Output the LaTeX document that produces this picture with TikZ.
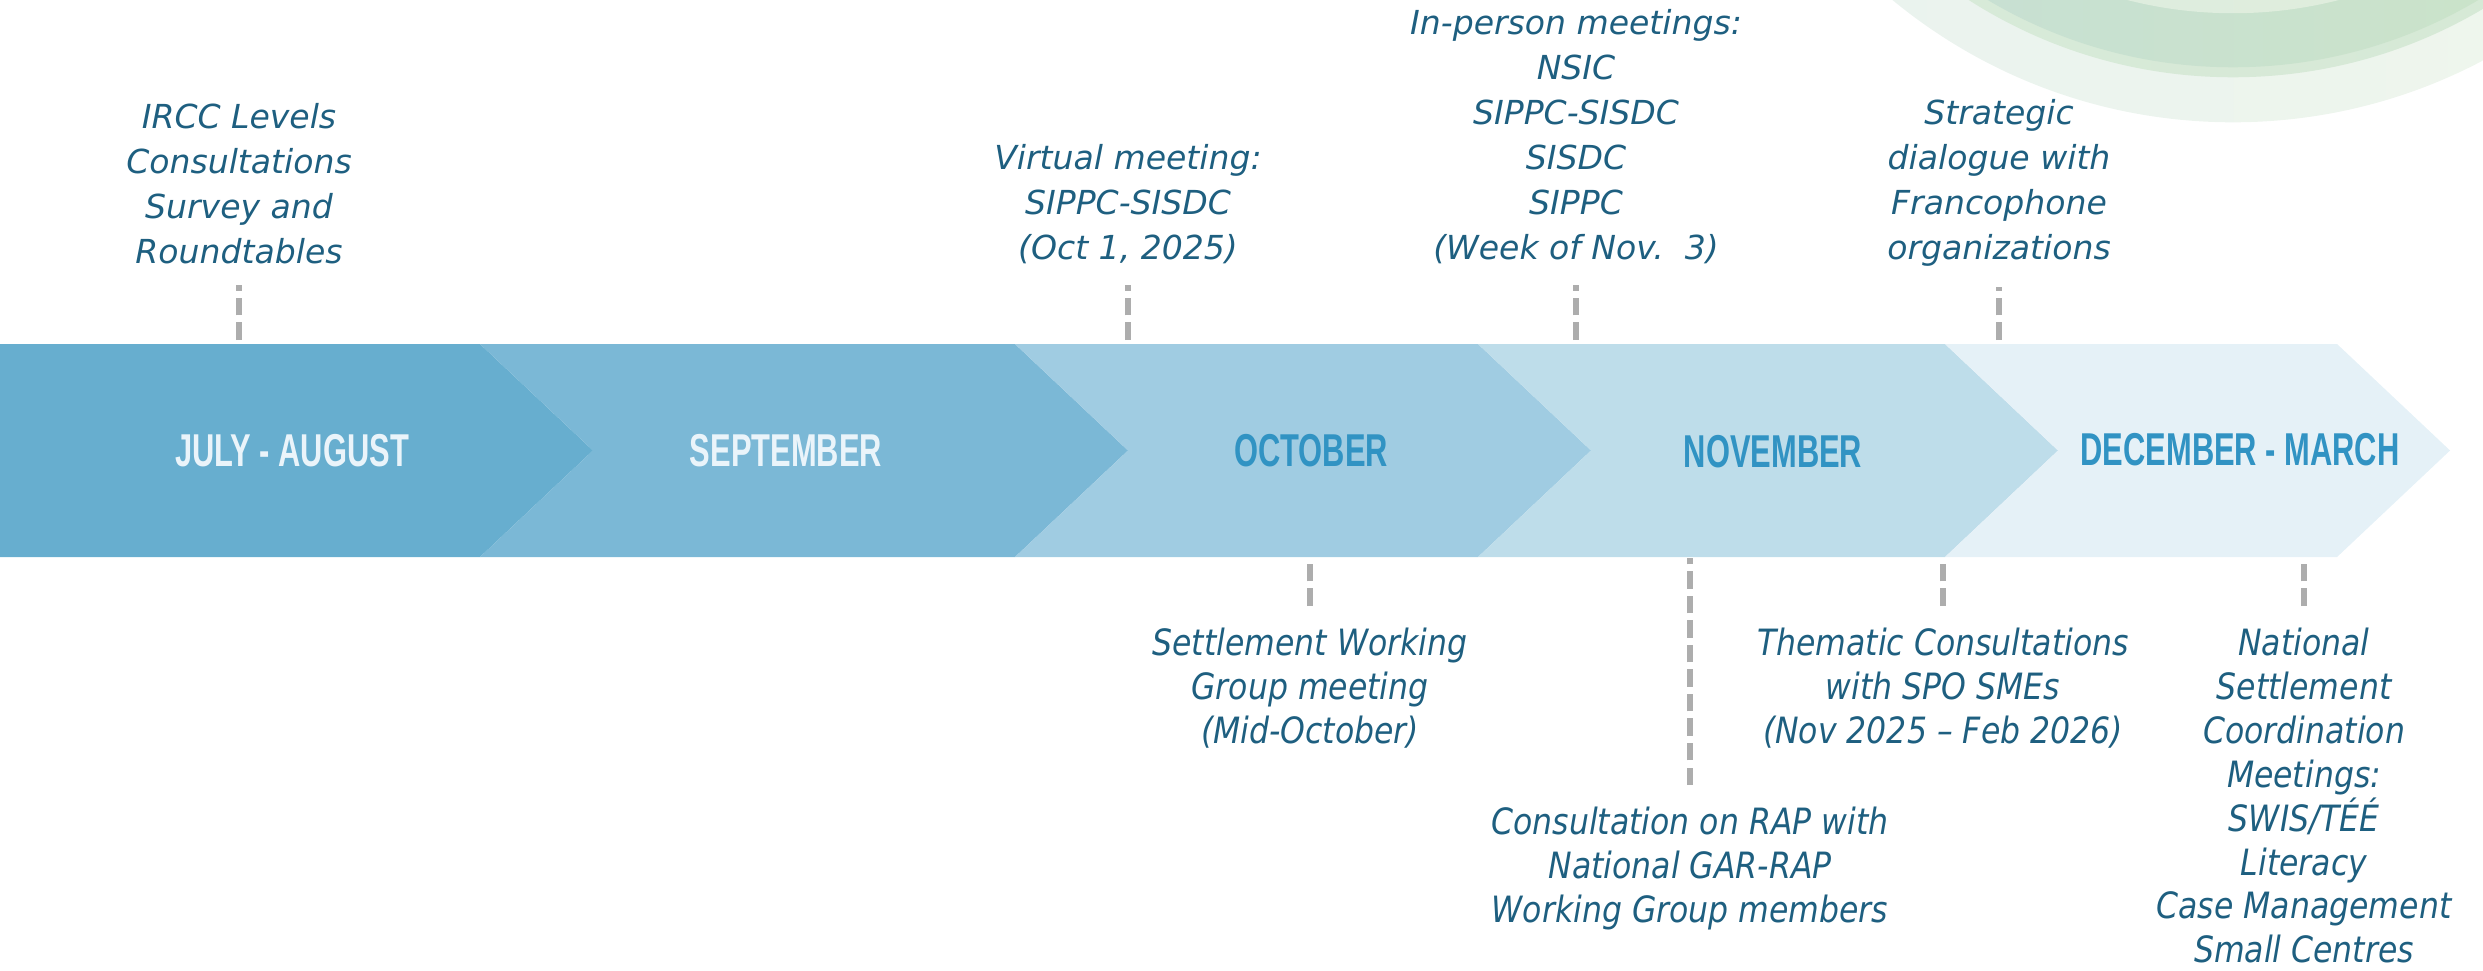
\documentclass[tikz,border=0pt]{standalone}
\usepackage{fontspec}
\usepackage{tikz}
\usetikzlibrary{positioning}
\newfontfamily\bandfont[FakeStretch=0.67]{Liberation Sans}
\newfontfamily\notefont{DejaVu Sans}
\newfontfamily\narrowfont[FakeStretch=0.87]{DejaVu Sans}
\definecolor{chevA}{RGB}{103,174,207}
\definecolor{chevB}{RGB}{123,184,214}
\definecolor{chevC}{RGB}{160,204,226}
\definecolor{chevD}{RGB}{190,221,234}
\definecolor{chevE}{RGB}{229,241,247}
\definecolor{lightTxt}{RGB}{234,244,250}
\definecolor{blueTxt}{RGB}{49,147,195}
\definecolor{noteTxt}{RGB}{30,95,128}
\definecolor{tickGray}{RGB}{173,173,173}
\definecolor{ringOutL}{RGB}{233,242,239}
\definecolor{ringOutR}{RGB}{240,247,236}
\definecolor{ringMid}{RGB}{216,234,217}
\definecolor{ringBandL}{RGB}{198,223,214}
\definecolor{ringBandR}{RGB}{204,228,198}
\definecolor{ringInL}{RGB}{221,236,225}
\definecolor{ringInR}{RGB}{224,238,218}
\tikzstyle{Month} = [font=\bandfont\bfseries\fontsize{13.1}{13.1}\selectfont]
\tikzstyle{Above} = [inner sep=0pt, align=center, text=noteTxt, font=\notefont\itshape\fontsize{9.4}{12.8}\selectfont]
\tikzstyle{Below} = [inner sep=0pt, align=center, text=noteTxt, font=\narrowfont\itshape\fontsize{10.3}{12.5}\selectfont]
\tikzstyle{Tick} = [draw=tickGray, line width=1.7pt, dash pattern=on 0.175cm off 0.07cm]

\begin{document}
\begin{tikzpicture}[x=0.01cm, y=-0.01cm]
    \useasboundingbox (0,0) rectangle (2483,970);
    % rings in the corner
    \begin{scope}
      \clip (0,0) rectangle (2483,970);
      \shade[left color=ringOutL, right color=ringOutR] (2233,-413) circle[radius=5.35cm];
      \shade[left color=ringMid, right color=ringMid!80!ringBandR] (2233,-413) circle[radius=4.9cm];
      \shade[left color=ringBandL, right color=ringBandR] (2233,-413) circle[radius=4.8cm];
      \shade[left color=ringInL, right color=ringInR] (2233,-413) circle[radius=4.26cm];
    \end{scope}
    % chevrons
    \fill[chevA] (0,344) -- (480,344) -- (593,450.5) -- (480,557) -- (0,557) -- cycle;
    \foreach \a/\b/\c in {480/1015/chevB, 1015/1478/chevC, 1478/1945/chevD, 1945/2337/chevE}
      \fill[\c] (\a,344) -- (\b,344) -- (\b+113,450.5) -- (\b,557) -- (\a,557) -- (\a+113,450.5) -- cycle;
    \coordinate (bandtop) at (0,340);
    \coordinate (bandbot) at (0,558);
    \node[Month, text=lightTxt] (julaug) at (292,451)  {JULY - AUGUST};
    \node[Month, text=lightTxt] (sep)    at (786,451)  {SEPTEMBER};
    \node[Month, text=blueTxt]  (oct)    at (1311,451) {OCTOBER};
    \node[Month, text=blueTxt]  (nov)    at (1773,452) {NOVEMBER};
    \node[Month, text=blueTxt]  (decmar) at (2240,450) {DECEMBER - MARCH};
    % notes above
    \coordinate (t_ircc)  at (239,285);
    \coordinate (t_virt)  at (1128,285);
    \coordinate (t_inper) at (1576,285);
    \coordinate (t_strat) at (1999,287);
    \node[Above, above=0.2cm of t_ircc]  (ircc)  {IRCC Levels\\Consultations\\Survey and\\Roundtables};
    \node[Above, above=0.2cm of t_virt]  (virt)  {Virtual meeting:\\SIPPC-SISDC\\(Oct 1, 2025)};
    \node[Above, above=0.2cm of t_inper] (inper) {In-person meetings:\\NSIC\\SIPPC-SISDC\\SISDC\\SIPPC\\(Week of Nov.\ \ 3)};
    \node[Above, above=0.2cm of t_strat] (strat) {Strategic\\dialogue with\\Francophone\\organizations};
    \draw[Tick] (ircc |- bandtop)  -- (t_ircc);
    \draw[Tick] (virt |- bandtop)  -- (t_virt);
    \draw[Tick] (inper |- bandtop) -- (t_inper);
    \draw[Tick] (strat |- bandtop) -- (t_strat);
    % notes below
    \coordinate (b_swg)  at (1310,606);
    \coordinate (b_rap)  at (1690,785);
    \coordinate (b_them) at (1943,606);
    \coordinate (b_nscm) at (2304,606);
    \node[Below, below=0.21cm of b_swg]  (swg)  {Settlement Working\\Group meeting\\(Mid-October)};
    \node[Below, below=0.21cm of b_rap]  (rap)  {Consultation on RAP with\\National GAR-RAP\\Working Group members};
    \node[Below, below=0.21cm of b_them] (them) {Thematic Consultations\\with SPO SMEs\\(Nov 2025 – Feb 2026)};
    \node[Below, below=0.21cm of b_nscm] (nscm) {National\\Settlement\\Coordination\\Meetings:\\SWIS/TÉÉ\\Literacy\\Case Management\\Small Centres};
    \draw[Tick] (b_swg)  -- (swg |- bandbot);
    \draw[Tick] (b_rap)  -- (rap |- bandbot);
    \draw[Tick] (b_them) -- (them |- bandbot);
    \draw[Tick] (b_nscm) -- ([yshift=-0.05cm]nscm |- bandbot);
  \end{tikzpicture}
\end{document}
